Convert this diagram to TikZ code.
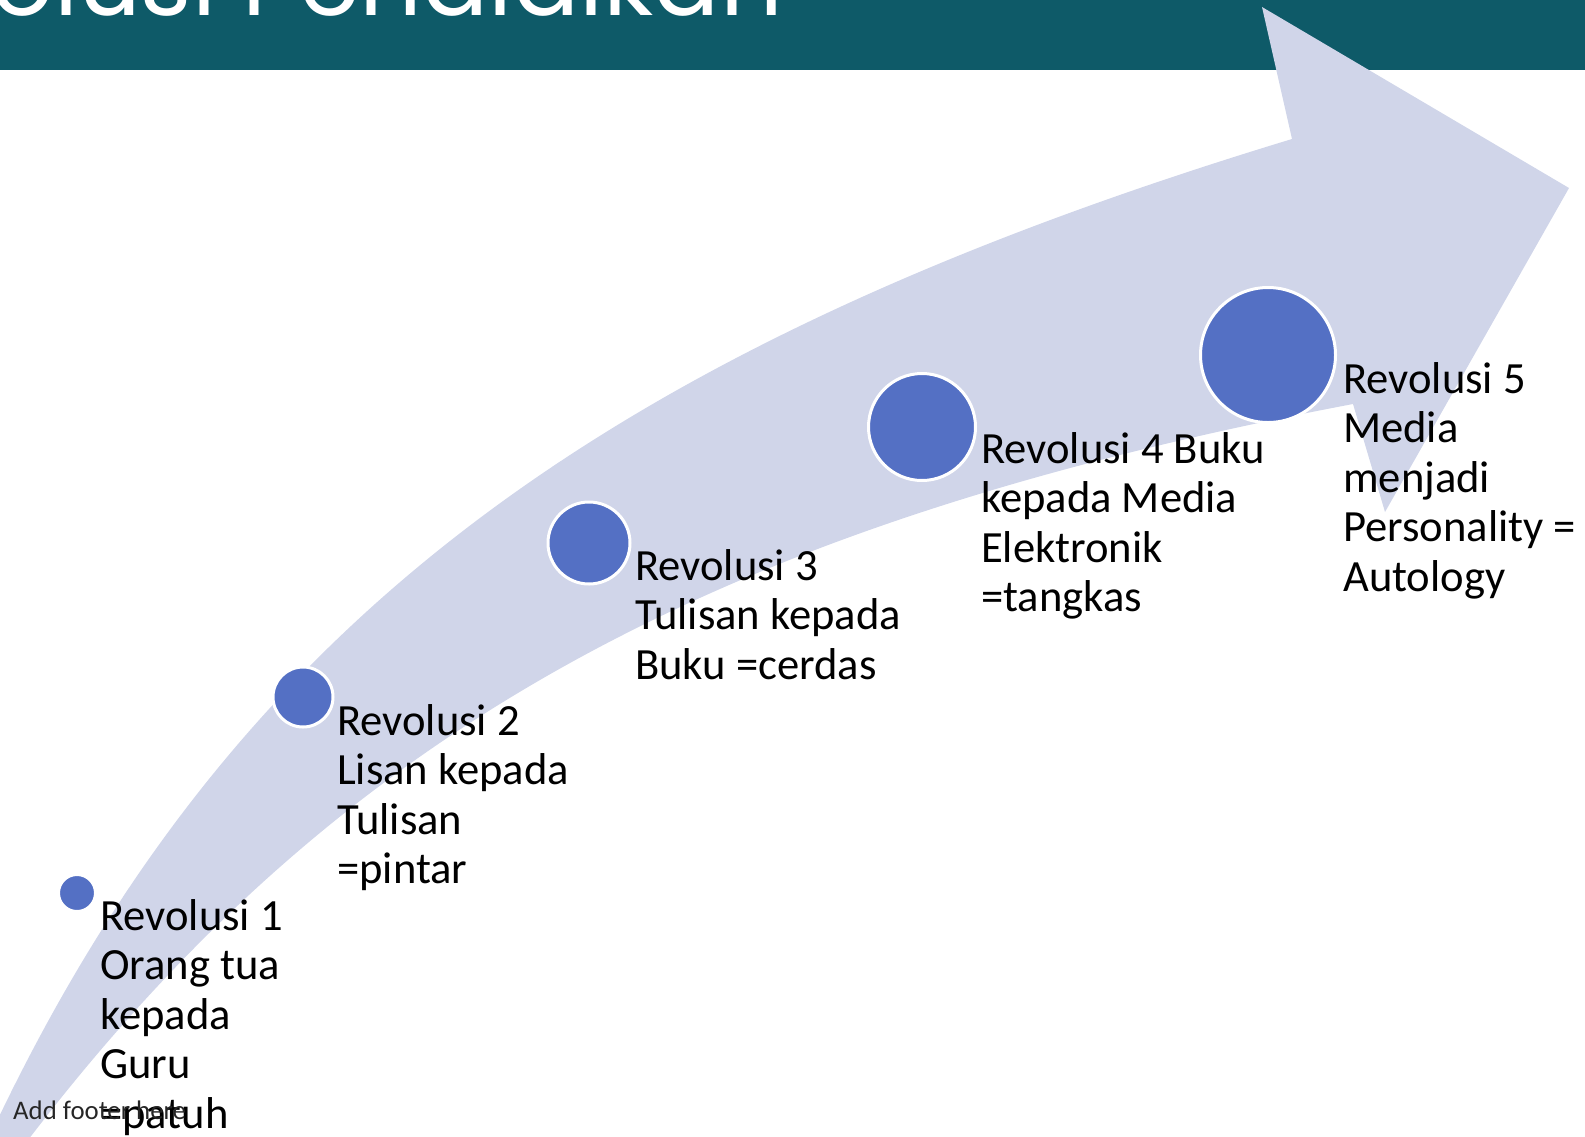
\documentclass[tikz,border=0pt]{standalone}
\usepackage{fontspec}
\setmainfont{Carlito}
\newfontfamily\titlefont{Poppins}
\definecolor{bandteal}{HTML}{0E5A68}
\definecolor{arrowfill}{HTML}{D0D5E9}
\definecolor{dotblue}{HTML}{5470C4}

\begin{document}
\begin{tikzpicture}[x=1pt,y=-1pt]
\tikzstyle{every node}+=[inner sep=0pt]
\tikzstyle{dot}=[circle,fill=dotblue,draw=white,line width=3pt]
\tikzstyle{revtext}=[anchor=base west,align=left,font=\fontsize{44.6}{49.5}\selectfont]
\useasboundingbox (0,0) rectangle (1585,1136);
\fill [bandteal] (0,0) rectangle (1585,70);
\node [anchor=base east,text=white,font=\titlefont\fontsize{98}{100}\selectfont] (title) at (783,15) {Revolusi Pendidikan};
\fill [arrowfill] (-12,1140) .. controls (225,632) and (590,352) .. (1292,139) -- (1262,7) -- (1569,188) -- (1385,512) -- (1353,404) .. controls (710,526) and (338,733) .. (25,1144) -- cycle;
\node [dot,minimum size=37pt] (c1) at (77,893) {};
\node [dot,minimum size=60pt] (c2) at (303,697) {};
\node [dot,minimum size=82pt] (c3) at (589,543) {};
\node [dot,minimum size=107pt] (c4) at (922,427) {};
\node [dot,minimum size=135pt] (c5) at (1268,355) {};
\node [revtext] (t1) at (100,1128) {Revolusi 1\\Orang tua\\kepada\\Guru\\=patuh};
\node [revtext] (t2) at (337,883.5) {Revolusi 2\\Lisan kepada\\Tulisan\\=pintar};
\node [revtext] (t3) at (635,679) {Revolusi 3\\Tulisan kepada\\Buku =cerdas};
\node [revtext] (t4) at (981,611.5) {Revolusi 4 Buku\\kepada Media\\Elektronik\\=tangkas};
\node [revtext] (t5) at (1343,591) {Revolusi 5\\Media\\menjadi\\Personality =\\Autology};
\node [anchor=base west,text=black!85,font=\fontsize{26.8}{30}\selectfont] (footer) at (13,1119) {Add footer here};
\end{tikzpicture}
\end{document}
